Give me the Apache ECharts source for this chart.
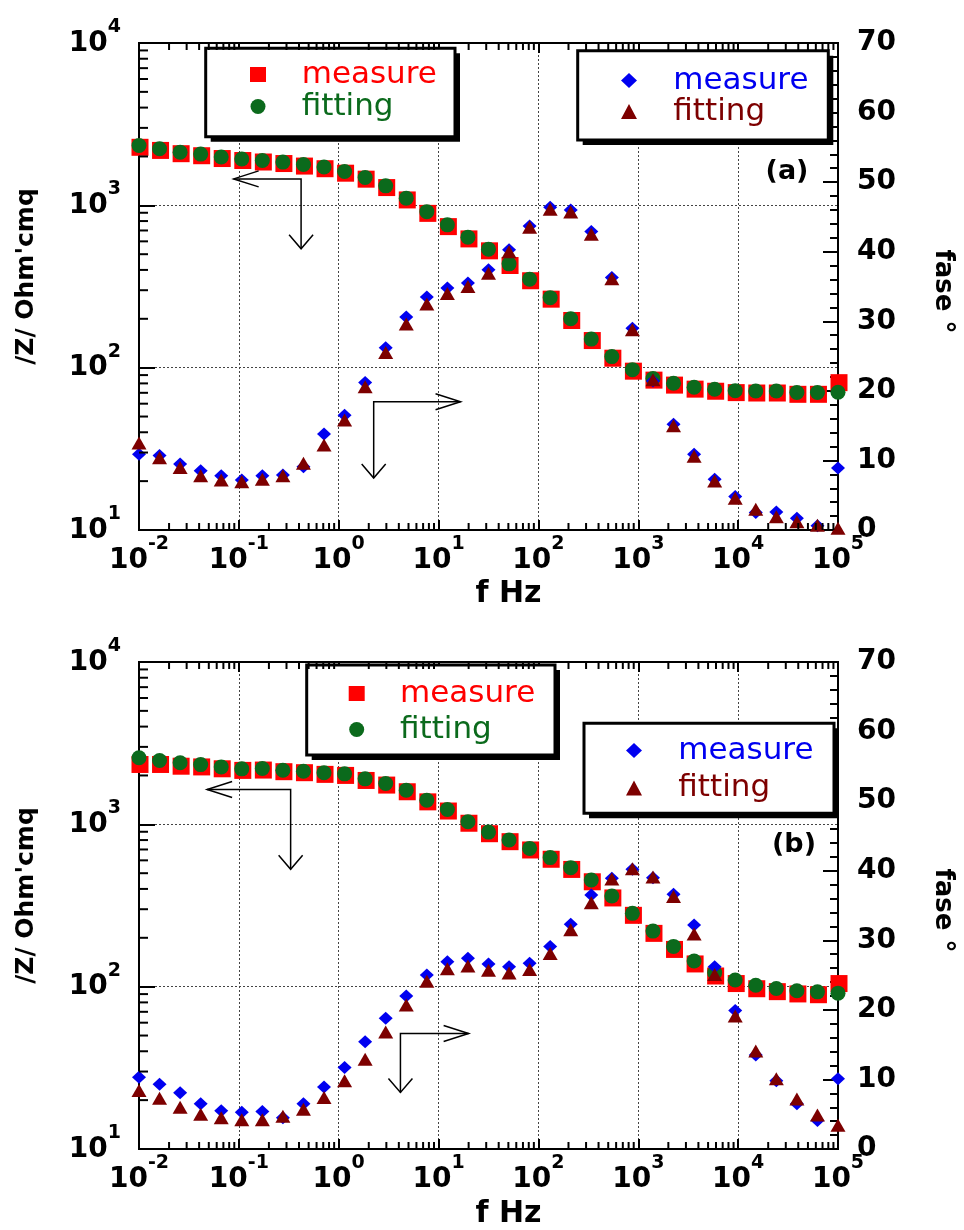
<!DOCTYPE html>
<html>
<head>
<meta charset="utf-8">
<script src="https://cdn.jsdelivr.net/npm/echarts@6/dist/echarts.min.js"></script>
<style>
html,body{margin:0;padding:0;background:#fff;}
#chart{width:964px;height:1230px;}
</style>
</head>
<body>
<div id="chart"></div>
<script>
// ---- data ----
const freq = [0.01, 0.01606, 0.02581, 0.04145, 0.06659, 0.107, 0.1719, 0.2761, 0.4436, 0.7126,
  1.145, 1.839, 2.955, 4.747, 7.627, 12.25, 19.68, 31.62, 50.8, 81.61,
  131.1, 210.6, 338.4, 543.6, 873.4, 1403, 2254, 3622, 5818, 9347,
  15017, 24125, 38760, 62270, 100000];

// panel (a)
const zMeasureA = [2310, 2210, 2110, 2050, 1970, 1915, 1875, 1835, 1770, 1705,
  1600, 1470, 1305, 1095, 905, 750, 630, 532, 432, 348,
  268, 198, 149, 116, 96.5, 85, 79.2, 74.8, 72.6, 71.2,
  70.8, 70.8, 69.5, 69.5, 82];
const zFitA = [2338, 2230, 2127, 2068, 1984, 1928, 1889, 1847, 1785, 1721,
  1616, 1484, 1318, 1107, 914, 758, 637, 537, 436, 351,
  270, 200, 150, 117, 97.2, 85.8, 80.1, 75.7, 73.6, 72.2,
  71.8, 71.8, 70.3, 70.3, 70.5];
const phMeasureA = [10.9, 10.7, 9.5, 8.5, 7.8, 7.2, 7.8, 7.9, 9.1, 13.8,
  16.5, 21.2, 26.2, 30.6, 33.5, 34.8, 35.5, 37.4, 40.3, 43.7,
  46.4, 46.0, 42.9, 36.3, 29.0, 21.4, 15.2, 10.9, 7.3, 4.8,
  2.5, 2.6, 1.7, 0.6, 8.9];
const phFitA = [12.5, 10.4, 9.0, 7.8, 7.2, 6.95, 7.3, 7.8, 9.6, 12.2,
  15.8, 20.6, 25.5, 29.6, 32.5, 34.0, 35.0, 36.9, 40.0, 43.5,
  46.1, 45.7, 42.5, 36.1, 28.8, 21.6, 15.0, 10.6, 7.05, 4.55,
  3.0, 1.9, 1.2, 0.7, 0.25];

// panel (b)
const zMeasureB = [2371, 2371, 2313, 2290, 2230, 2180, 2190, 2140, 2110, 2060,
  2030, 1890, 1770, 1610, 1395, 1225, 1030, 888, 793, 705,
  618, 535, 449, 357, 279, 216, 172, 140, 118, 106,
  98.5, 94.5, 91.5, 90.5, 106];
const zFitB = [2570, 2472, 2394, 2333, 2259, 2197, 2206, 2154, 2125, 2077,
  2047, 1906, 1785, 1624, 1409, 1235, 1038, 896, 800, 711,
  624, 541, 454, 362, 283, 220, 177, 144, 122, 110,
  102, 97.5, 94.3, 92.9, 91.2];
const phMeasureB = [10.3, 9.3, 8.1, 6.5, 5.5, 5.3, 5.4, 4.5, 6.5, 8.9,
  11.7, 15.4, 18.8, 22.0, 25.0, 26.9, 27.4, 26.6, 26.2, 26.7,
  29.1, 32.3, 36.5, 38.9, 40.2, 39.0, 36.6, 32.2, 26.2, 19.9,
  13.5, 9.8, 6.5, 4.1, 10.1];
const phFitB = [8.4, 7.3, 6.0, 5.0, 4.5, 4.2, 4.2, 4.7, 5.7, 7.4,
  9.8, 12.9, 16.8, 20.7, 24.1, 25.9, 26.3, 25.7, 25.3, 25.8,
  28.1, 31.5, 35.4, 38.8, 40.3, 39.1, 36.3, 30.9, 25.1, 19.1,
  14.1, 10.1, 7.2, 4.9, 3.4];

// annotation arrows: [corner f, corner |Z|, horizontal tip f, vertical tip |Z|]
const arrowsA = [[0.42, 1455, 0.0887, 540], [2.24, 61.7, 16.6, 20.9]];
const arrowsB = [[0.33, 1641, 0.0481, 528], [4.15, 51.5, 20.0, 22.3]];

const panelLabels = ['(a)', '(b)'];
const xName = 'f Hz';
const yLeftName = "/Z/ Ohm'cmq";
const yRightName = 'fase °';
const legendNames = ['measure', 'fitting'];
const phaseTicks = {min: 0, max: 70, interval: 10};

// ---- styling / layout ----
const FONT = 'DejaVu Sans';
const COL = {red: '#ff0000', green: '#0b6a1c', blue: '#0000f0', dred: '#7d0000'};
const grids = [
  {left: 139, top: 43, width: 709, height: 487},
  {left: 139, top: 662, width: 709, height: 488}
];

const minorX = [];
for (let e = -2; e <= 4; e++) for (let m = 2; m <= 9; m++) minorX.push([m * Math.pow(10, e), 100]);
const minorY = [];
for (let e = 1; e <= 3; e++) for (let m = 2; m <= 9; m++) minorY.push([1, m * Math.pow(10, e)]);

function pow10Label(v) {
  const e = Math.round(Math.log10(v));
  return '{b|10}{s|' + e + '}';
}
const powRich = {
  b: {fontFamily: FONT, fontWeight: 'bold', fontSize: 28, color: '#000', lineHeight: 40, verticalAlign: 'bottom'},
  s: {fontFamily: FONT, fontWeight: 'bold', fontSize: 19, color: '#000', lineHeight: 18, verticalAlign: 'top'}
};
const gridLine = {show: true, lineStyle: {color: '#444', width: 1, type: [2, 2]}};
const blackLine = {show: true, onZero: false, lineStyle: {color: '#000', width: 2}};

const xAxes = [], yAxes = [], series = [], legends = [], graphics = [];

function pair(arr) { return freq.map((f, i) => [f, arr[i]]); }

const panels = [
  {zm: zMeasureA, zf: zFitA, pm: phMeasureA, pf: phFitA, arrows: arrowsA, tag: 'a'},
  {zm: zMeasureB, zf: zFitB, pm: phMeasureB, pf: phFitB, arrows: arrowsB, tag: 'b'}
];

// legend frames: box (x, y, w, h) and item layout inside
const legendBoxes = [
  [ {x: 205.7, y: 48.3, w: 249.3, h: 88.4, padding: [10.7, 10, 10, 44.3], itemGap: 1, lh: 30, pad: 30.7},
    {x: 577.7, y: 50.7, w: 250.6, h: 89.3, padding: [14.3, 10, 10, 43.3], itemGap: 0, lh: 28, pad: 31.3} ],
  [ {x: 306.7, y: 665, w: 248.3, h: 90, padding: [13, 10, 10, 42], itemGap: 5, lh: 30, pad: 30.3},
    {x: 584, y: 723.3, w: 250, h: 90, padding: [11.7, 10, 10, 42], itemGap: 6.5, lh: 30, pad: 31.3} ]
];
const labelPos = [[787, 172], [794, 845]];
const xNameGap = [49, 50];

panels.forEach((p, g) => {
  const xb = g * 2, yl = g * 2, yr = g * 2 + 1;
  xAxes.push({
    type: 'log', logBase: 10, gridIndex: g, position: 'bottom', min: 0.01, max: 100000, splitNumber: 7,
    axisLine: blackLine,
    axisTick: {show: true, inside: true, length: 10, lineStyle: {color: '#000', width: 2}},
    axisLabel: {margin: 5, formatter: pow10Label, rich: powRich, showMinLabel: true, showMaxLabel: true},
    splitLine: gridLine,
    name: xName, nameLocation: 'middle', nameGap: xNameGap[g],
    nameTextStyle: {fontFamily: FONT, fontWeight: 'bold', fontSize: 30, color: '#000', padding: [0, 0, 0, 40]}
  });
  xAxes.push({
    type: 'log', logBase: 10, gridIndex: g, position: 'top', min: 0.01, max: 100000, splitNumber: 7,
    axisLine: blackLine,
    axisTick: {show: true, inside: true, length: 10, lineStyle: {color: '#000', width: 2}},
    axisLabel: {show: false}, splitLine: {show: false}
  });
  yAxes.push({
    type: 'log', logBase: 10, gridIndex: g, position: 'left', min: 10, max: 10000, splitNumber: 3,
    axisLine: blackLine,
    axisTick: {show: true, inside: true, length: 16, lineStyle: {color: '#000', width: 2}},
    axisLabel: {margin: 18, formatter: pow10Label, rich: powRich, padding: [0, 0, 11, 0], showMinLabel: true, showMaxLabel: true},
    splitLine: gridLine,
    name: yLeftName, nameLocation: 'middle', nameGap: 100, nameRotate: 90,
    nameTextStyle: {fontFamily: FONT, fontWeight: 'bold', fontSize: 25, color: '#000', padding: [0, 0, 0, 20]}
  });
  yAxes.push({
    type: 'value', gridIndex: g, position: 'right', min: phaseTicks.min, max: phaseTicks.max, interval: phaseTicks.interval,
    axisLine: blackLine,
    axisTick: {show: true, inside: true, length: 15, lineStyle: {color: '#000', width: 2}},
    minorTick: {show: true, splitNumber: 5, length: 8, lineStyle: {color: '#000', width: 2}},
    axisLabel: {margin: 19, fontFamily: FONT, fontWeight: 'bold', fontSize: 28, color: '#000', padding: [0, 0, 8, 0], showMinLabel: true, showMaxLabel: true},
    splitLine: {show: false},
    name: yRightName, nameLocation: 'middle', nameGap: 92, nameRotate: -90,
    nameTextStyle: {fontFamily: FONT, fontWeight: 'bold', fontSize: 26, color: '#000', padding: [0, 0, 0, 10]}
  });

  const nm = (s) => s + ' ' + p.tag;
  series.push({type: 'scatter', name: nm('measure |Z|'), xAxisIndex: xb, yAxisIndex: yl, data: pair(p.zm),
    symbol: 'rect', symbolSize: 17, symbolOffset: [1, 1], itemStyle: {color: COL.red, opacity: 1}, z: 2});
  series.push({type: 'scatter', name: nm('fitting |Z|'), xAxisIndex: xb, yAxisIndex: yl, data: pair(p.zf),
    symbol: 'circle', symbolSize: 15, itemStyle: {color: COL.green, opacity: 1}, z: 3});
  series.push({type: 'scatter', name: nm('measure fase'), xAxisIndex: xb, yAxisIndex: yr, data: pair(p.pm),
    symbol: 'diamond', symbolSize: [14, 13], itemStyle: {color: COL.blue, opacity: 1}, z: 4});
  series.push({type: 'scatter', name: nm('fitting fase'), xAxisIndex: xb, yAxisIndex: yr, data: pair(p.pf),
    symbol: 'triangle', symbolSize: [15, 13], itemStyle: {color: COL.dred, opacity: 1}, z: 5});

  // minor ticks of the log axes
  series.push({type: 'custom', xAxisIndex: xb, yAxisIndex: yl, data: minorX, silent: true, z: 6,
    renderItem: (params, api) => {
      const pt = api.coord([api.value(0), api.value(1)]);
      const cs = params.coordSys;
      return {type: 'group', children: [
        {type: 'line', shape: {x1: pt[0], y1: cs.y + cs.height, x2: pt[0], y2: cs.y + cs.height - 7}, style: {stroke: '#000', lineWidth: 2}},
        {type: 'line', shape: {x1: pt[0], y1: cs.y, x2: pt[0], y2: cs.y + 7}, style: {stroke: '#000', lineWidth: 2}}
      ]};
    }});
  series.push({type: 'custom', xAxisIndex: xb, yAxisIndex: yl, data: minorY, silent: true, z: 6,
    renderItem: (params, api) => {
      const pt = api.coord([api.value(0), api.value(1)]);
      const cs = params.coordSys;
      return {type: 'line', shape: {x1: cs.x, y1: pt[1], x2: cs.x + 9, y2: pt[1]}, style: {stroke: '#000', lineWidth: 2}};
    }});
  // annotation arrows
  series.push({type: 'custom', xAxisIndex: xb, yAxisIndex: yl, data: p.arrows, silent: true, z: 7,
    renderItem: (params, api) => {
      const c = api.coord([api.value(0), api.value(1)]);
      const h = api.coord([api.value(2), api.value(1)]);
      const v = api.coord([api.value(0), api.value(3)]);
      const d = h[0] > c[0] ? 1 : -1;
      const st = {stroke: '#000', lineWidth: 1.5, fill: null};
      return {type: 'group', children: [
        {type: 'polyline', shape: {points: [h, c, v]}, style: st},
        {type: 'polyline', shape: {points: [[h[0] - d * 25, h[1] - 8], h, [h[0] - d * 25, h[1] + 8]]}, style: st},
        {type: 'polyline', shape: {points: [[v[0] - 12, v[1] - 14], v, [v[0] + 12, v[1] - 14]]}, style: st}
      ]};
    }});

  // legends (items) + their framed boxes with a solid drop shadow
  const lb = legendBoxes[g];
  const mk = (box, names, cols) => ({
    orient: 'vertical', left: box.x, top: box.y, padding: box.padding, itemGap: box.itemGap,
    itemWidth: 16, itemHeight: 15, selectedMode: false, z: 6,
    backgroundColor: 'transparent', borderWidth: 0,
    data: names,
    formatter: (n) => n.indexOf('measure') === 0 ? '{m|' + legendNames[0] + '}' : '{f|' + legendNames[1] + '}',
    textStyle: {
      rich: {
        m: {fontFamily: FONT, fontSize: 31, color: cols[0], lineHeight: box.lh, padding: [0, 0, 0, box.pad]},
        f: {fontFamily: FONT, fontSize: 31, color: cols[1], lineHeight: box.lh, padding: [0, 0, 0, box.pad]}
      }
    }
  });
  legends.push(mk(lb[0], [nm('measure |Z|'), nm('fitting |Z|')], [COL.red, COL.green]));
  legends.push(mk(lb[1], [nm('measure fase'), nm('fitting fase')], [COL.blue, COL.dred]));
  lb.forEach(box => {
    graphics.push({type: 'rect', z: 3, silent: true,
      shape: {x: box.x + 5, y: box.y + 5, width: box.w, height: box.h},
      style: {fill: '#000', stroke: null}});
    graphics.push({type: 'rect', z: 4, silent: true,
      shape: {x: box.x, y: box.y, width: box.w, height: box.h},
      style: {fill: '#fff', stroke: '#000', lineWidth: 3}});
  });

  graphics.push({type: 'text', x: labelPos[g][0], y: labelPos[g][1], z: 10,
    style: {text: panelLabels[g], fontFamily: FONT, fontWeight: 'bold', fontSize: 27, fill: '#000', align: 'center', verticalAlign: 'middle'}});
});

const chart = echarts.init(document.getElementById('chart'), null, {renderer: 'canvas'});
chart.setOption({
  animation: false,
  backgroundColor: '#fff',
  grid: grids.map(r => Object.assign({show: true, borderColor: '#000', borderWidth: 2, backgroundColor: 'transparent', containLabel: false}, r)),
  xAxis: xAxes,
  yAxis: yAxes,
  legend: legends,
  series: series,
  graphic: graphics
});
</script>
</body>
</html>
